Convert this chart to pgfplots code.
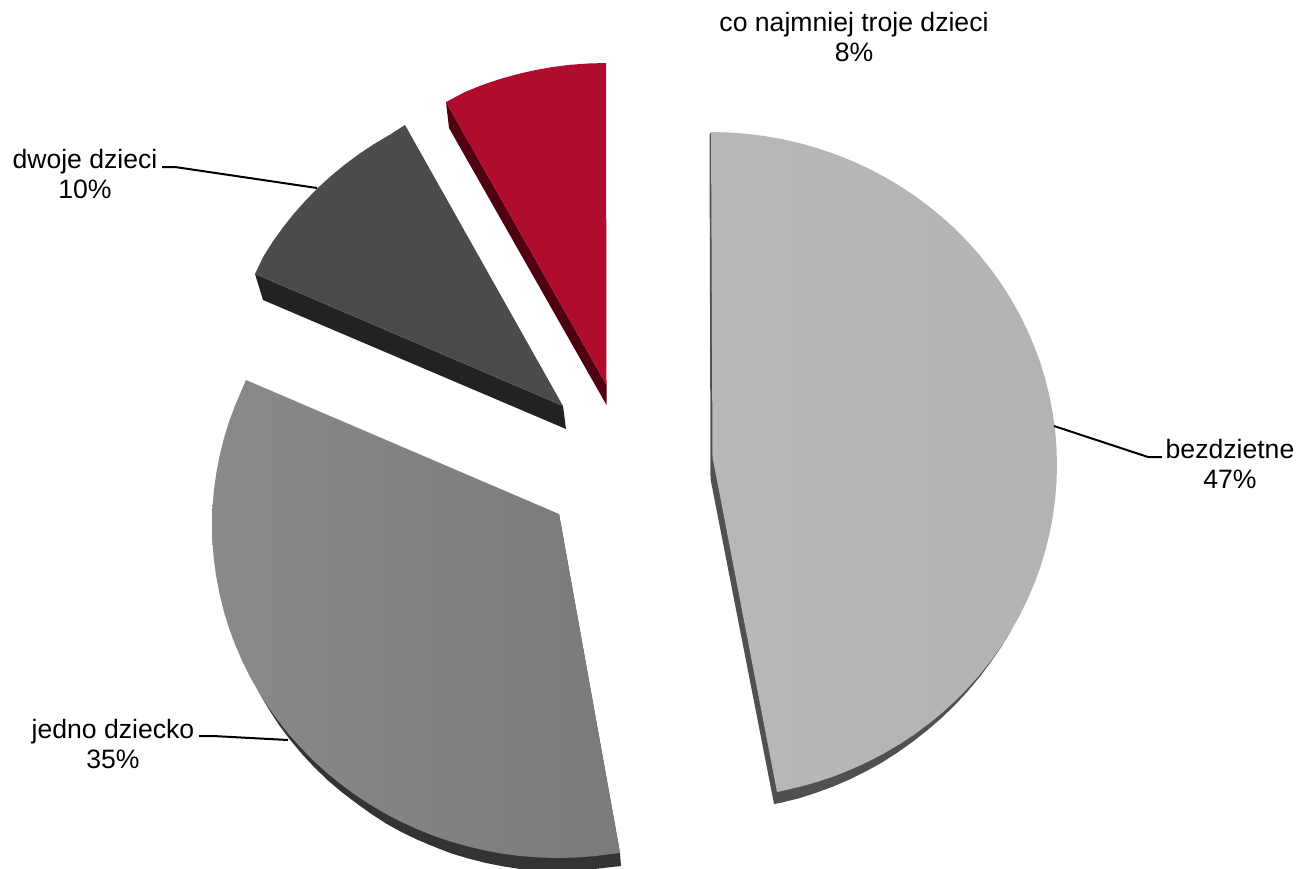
\documentclass[border=0pt]{standalone}
\usepackage{fontspec}
\setmainfont{Liberation Sans}
\usepackage{pgfplots}
\pgfplotsset{compat=1.18}

\definecolor{redtop}{HTML}{B00C2D}
\definecolor{redside}{HTML}{4F0012}
\definecolor{darktop}{HTML}{4B4B4B}
\definecolor{darkside}{HTML}{222222}
\definecolor{midside}{HTML}{333333}
\definecolor{lightside}{HTML}{505050}

\newcommand{\lab}{\fontsize{13.3}{15}\selectfont}
\tikzset{lbl/.style={anchor=base, inner sep=0pt, outer sep=0pt, font=\lab}}

\begin{document}
\begin{tikzpicture}
\path[use as bounding box] (0,0) rectangle (650.5pt,434pt);
\begin{axis}[
  at={(0,0)}, anchor=south west,
  x=0.5pt, y=0.5pt,
  xmin=0, xmax=1301, ymin=0, ymax=868,
  y dir=reverse,
  hide axis,
  no markers,
  every axis plot/.append style={forget plot, solid},
]
% bezdzietne 47%: side, then top
\addplot[draw=none, fill=lightside] coordinates {
  (711,132) (709.5,135) (710.5,479) (774,804) (780,803) (798.2,798.5) (815.5,793) (832.7,786.7)
  (849.5,779.5) (866.1,771.3) (882,762.5) (897.7,752.4) (913,741.5) (927.5,730.1) (941.5,718)
  (954.9,705.1) (967.5,691.5) (979.4,677.3) (990.5,662.5) (1001,647.3) (1010.6,631.5) (800,400)
};
\addplot[draw=none, left color=black!28, right color=black!30] coordinates {
  (711,132) (729.1,132.5) (747.2,133.8) (765.1,136.1) (782.9,139.3) (800.5,143.4) (817.9,148.3)
  (835,154.1) (851.7,160.8) (868.1,168.3) (884,176.6) (899.4,185.7) (914.4,195.6) (928.7,206.2)
  (942.5,217.5) (955.7,229.5) (968.1,242.2) (979.9,255.4) (990.9,269.3) (1001.2,283.6)
  (1010.6,298.5) (1019.3,313.8) (1027.1,329.6) (1034,345.7) (1040.1,362.1) (1045.2,378.8)
  (1049.4,395.8) (1052.7,412.9) (1055.1,430.2) (1056.5,447.6) (1057,465) (1056.5,482.4)
  (1055.1,499.8) (1052.7,517.1) (1049.4,534.2) (1045.2,551.2) (1040.1,567.9) (1034,584.3)
  (1027.1,600.4) (1019.3,616.2) (1010.6,631.5) (1001.2,646.4) (990.9,660.7) (979.9,674.6)
  (968.1,687.8) (955.7,700.5) (942.5,712.5) (928.7,723.8) (914.4,734.4) (899.4,744.3)
  (884,753.4) (868.1,761.7) (851.7,769.2) (835,775.9) (817.9,781.7) (800.5,786.6)
  (782.9,790.7) (777,792) (712.5,457)
};
% jedno dziecko 35%
\addplot[draw=none, fill=midside] coordinates {
  (620,853) (621,866) (594.2,869) (576.1,870.3) (558,871) (539.9,870.5) (521.8,869.2) (503.9,866.5)
  (486.1,863) (468.8,858.6) (451.5,853.5) (434.5,846.9) (418,840) (401.7,832.2) (386,823.5)
  (370.8,813.6) (356,803) (341.7,792.1) (328,780.5) (314.6,767.6) (302,754) (290.1,739.8)
  (279,725) (268.3,708.5) (258.4,691.5) (559,514)
};
\addplot[draw=none, left color=black!46, right color=black!52] coordinates {
  (246,380) (241.9,389.6) (235,405.7) (228.9,422.1) (223.8,438.8) (219.6,455.8) (216.3,472.9)
  (213.9,490.2) (212.5,507.6) (212,525) (212.5,542.4) (213.9,559.8) (216.3,577.1) (219.6,594.2)
  (223.8,611.2) (228.9,627.9) (235,644.3) (241.9,660.4) (249.7,676.2) (258.4,691.5) (267.8,706.4)
  (278.1,720.7) (289.1,734.6) (300.9,747.8) (313.3,760.5) (326.5,772.5) (340.3,783.8) (354.6,794.4)
  (369.6,804.3) (385,813.4) (400.9,821.7) (417.3,829.2) (434,835.9) (451.1,841.7) (468.5,846.6)
  (486.1,850.7) (503.9,853.9) (521.8,856.2) (539.9,857.5) (558,858) (576.1,857.5) (594.2,856.2)
  (612.1,853.9) (620,853) (559,514)
};
% dwoje dzieci 10%
\addplot[draw=none, fill=darkside] coordinates {(255,274) (263,300) (566,429) (563,406)};
\addplot[draw=none, fill=darktop] coordinates {
  (405,125) (390,134.6) (374.6,143.7) (359.6,153.6) (345.3,164.2) (331.5,175.5) (318.3,187.5)
  (305.9,200.2) (294.1,213.4) (283.1,227.3) (272.8,241.6) (263.4,256.5) (255,274) (563,406)
};
% co najmniej troje dzieci 8%
\addplot[draw=none, fill=redside] coordinates {(446,102) (449,128) (606.5,405) (606.5,385)};
\addplot[draw=none, fill=redtop] coordinates {
  (606,63) (587.9,63.5) (569.8,64.8) (551.9,67.1) (534.1,70.3) (516.5,74.4) (499.1,79.3)
  (482,85.1) (465.3,91.8) (446,102) (606.5,385)
};
% leader lines
\addplot[black, line width=1pt] coordinates {(162,167) (175,167) (317,188)};
\addplot[black, line width=1pt] coordinates {(1054,426) (1148,457) (1162,457)};
\addplot[black, line width=1pt] coordinates {(199,736) (213,736) (288,740)};
% labels
\node[lbl] at (axis cs:854,31) {co najmniej troje dzieci};
\node[lbl] at (axis cs:854,61) {8\%};
\node[lbl] at (axis cs:85,168) {dwoje dzieci};
\node[lbl] at (axis cs:85,198) {10\%};
\node[lbl] at (axis cs:1230,458) {bezdzietne};
\node[lbl] at (axis cs:1230,488) {47\%};
\node[lbl] at (axis cs:113,738) {jedno dziecko};
\node[lbl] at (axis cs:113,768) {35\%};
\end{axis}
\end{tikzpicture}
\end{document}
